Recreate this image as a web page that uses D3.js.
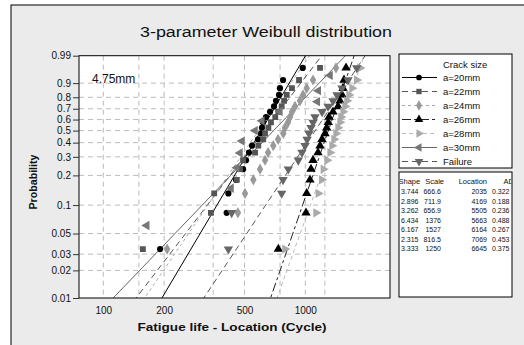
<!DOCTYPE html>
<html>
<head>
<meta charset="utf-8">
<script src="https://cdn.jsdelivr.net/npm/d3@7/dist/d3.min.js"></script>
<style>
  body { margin: 0; background: #fff; }
  text { font-family: "Liberation Sans", Arial, sans-serif; fill: #111; }
</style>
</head>
<body>
<svg id="chart" width="524" height="345"></svg>
<script>
// ---- data ----
const seriesNames = ["a=20mm", "a=22mm", "a=24mm", "a=26mm", "a=28mm", "a=30mm", "Failure"];

// fatigue life - location (cycles), sorted, one per median rank
const life20 = [191, 408, 416, 454, 492, 509, 526, 545, 583, 604, 610, 617, 639, 669, 700, 716, 741, 749, 776, 971];
const life22 = [157, 341, 354, 458, 475, 492, 564, 585, 619, 632, 656, 676, 710, 735, 764, 785, 809, 859, 931, 1183];
const life24 = [207, 464, 503, 553, 597, 632, 654, 694, 733, 778, 793, 821, 840, 860, 889, 941, 974, 1016, 1092, 1419];
const life26 = [735, 1008, 1016, 1055, 1067, 1092, 1156, 1183, 1210, 1252, 1276, 1300, 1310, 1371, 1452, 1485, 1519, 1537, 1555, 1591];
const life28 = [793, 1130, 1160, 1206, 1228, 1281, 1326, 1356, 1387, 1419, 1452, 1485, 1502, 1537, 1573, 1608, 1646, 1703, 1797, 1866];
const life30 = [164, 429, 458, 475, 486, 564, 610, 749, 1147, 1160, 1326];
const lifeFail = [416, 432, 764, 776, 824, 923, 963, 997, 1020, 1043, 1067, 1092, 1117, 1210, 1296, 1371, 1435, 1519, 1627, 1797];

// median rank probabilities (n = 20 and n = 11)
const rank20 = [0.034, 0.083, 0.132, 0.181, 0.230, 0.279, 0.328, 0.377, 0.426, 0.475,
                0.525, 0.574, 0.623, 0.672, 0.721, 0.770, 0.819, 0.868, 0.917, 0.966];
const rank11 = [0.061, 0.149, 0.237, 0.325, 0.412, 0.5, 0.588, 0.675, 0.763, 0.851, 0.939];

// fitted parameters (table)
const shapes = [3.744, 2.896, 3.262, 6.434, 6.167, 2.315, 3.333];
const scales = [666.6, 711.9, 656.9, 1376, 1527, 816.5, 1250];
const locations = [2035, 4169, 5505, 5663, 6164, 7069, 6645];
const adValues = [0.322, 0.188, 0.236, 0.488, 0.267, 0.453, 0.375];

const probTicks = [0.99, 0.9, 0.8, 0.7, 0.6, 0.5, 0.4, 0.3, 0.2, 0.1, 0.05, 0.03, 0.02, 0.01];
const lifeTicks = [100, 200, 500, 1000];
const lifeGrid = [100, 150, 200, 350, 500, 750, 1000, 1250];

// ---- styling ----
const lifes = [life20, life22, life24, life26, life28, life30, lifeFail];
const ranks = [rank20, rank20, rank20, rank20, rank20, rank11, rank20];
const markColor = ["#000", "#555", "#999", "#000", "#aaa", "#777", "#666"];
const lineColor = ["#000", "#555", "#aaa", "#222", "#bbb", "#666", "#555"];
const lineDash = [null, "6,4", "3,3", "9,3,3,3", "4,3", null, "6,4"];
const symbols = [d3.symbolCircle, d3.symbolSquare, d3.symbolDiamond, d3.symbolTriangle,
                 d3.symbolTriangle, d3.symbolTriangle, d3.symbolTriangle];
const symbolRot = [0, 0, 0, 0, 90, -90, 180];
const symbolSize = [30, 34, 36, 38, 38, 38, 38];

const svg = d3.select("#chart");
const plot = { left: 79, right: 390, top: 55.7, bottom: 298 };

// weibull probability transform
const wb = p => Math.log(-Math.log(1 - p));

const x = d3.scaleLog().domain([75.8, 2626]).range([plot.left, plot.right]);
const y = d3.scaleLinear().domain([wb(0.01), wb(0.99)]).range([plot.bottom, plot.top]);

// frame
svg.append("rect").attr("x", 11).attr("y", 5).attr("width", 600).attr("height", 400)
  .attr("fill", "#ebebeb").attr("stroke", "#000");

svg.append("text").attr("x", 266).attr("y", 37).attr("text-anchor", "middle")
  .attr("font-size", 14).attr("textLength", 252).attr("lengthAdjust", "spacingAndGlyphs")
  .text("3-parameter Weibull distribution");

svg.append("rect").attr("x", plot.left).attr("y", plot.top)
  .attr("width", plot.right - plot.left).attr("height", plot.bottom - plot.top)
  .attr("fill", "#fff");

svg.append("clipPath").attr("id", "clip").append("rect")
  .attr("x", plot.left).attr("y", plot.top)
  .attr("width", plot.right - plot.left).attr("height", plot.bottom - plot.top);

// grid
const grid = svg.append("g").attr("stroke", "#bbb").attr("stroke-dasharray", "5,4");
grid.selectAll(".gx").data(lifeGrid).enter().append("line")
  .attr("x1", d => x(d)).attr("x2", d => x(d))
  .attr("y1", plot.top).attr("y2", plot.bottom);
grid.selectAll(".gy").data(probTicks.filter(p => p < 0.99 && p > 0.01)).enter().append("line")
  .attr("x1", plot.left).attr("x2", plot.right)
  .attr("y1", d => y(wb(d))).attr("y2", d => y(wb(d)));

// fitted lines
const lines = svg.append("g").attr("clip-path", "url(#clip)");
seriesNames.forEach((s, i) => {
  const ends = [wb(0.005), wb(0.995)].map(w => [scales[i] * Math.exp(w / shapes[i]), w]);
  lines.append("path")
    .attr("d", d3.line().x(d => x(d[0])).y(d => y(d[1]))(ends))
    .attr("fill", "none").attr("stroke", lineColor[i]).attr("stroke-width", 1)
    .attr("stroke-dasharray", lineDash[i]);
});

// points
const pts = svg.append("g").attr("clip-path", "url(#clip)");
seriesNames.forEach((s, i) => {
  pts.selectAll(".p" + i).data(lifes[i]).enter().append("path")
    .attr("d", d3.symbol().type(symbols[i]).size(symbolSize[i]))
    .attr("transform", (d, j) => "translate(" + x(d) + "," + y(wb(ranks[i][j])) + ") rotate(" + symbolRot[i] + ")")
    .attr("fill", markColor[i]);
});

svg.append("rect").attr("x", plot.left).attr("y", plot.top)
  .attr("width", plot.right - plot.left).attr("height", plot.bottom - plot.top)
  .attr("fill", "none").attr("stroke", "#000");

// y axis
const yAxis = svg.append("g").attr("transform", "translate(" + plot.left + ",0)")
  .call(d3.axisLeft(y).tickValues(probTicks.map(wb)).tickSize(6).tickPadding(2)
    .tickFormat((d, i) => String(probTicks[i])));
yAxis.select(".domain").remove();
yAxis.selectAll("line").attr("stroke", "#333");
yAxis.selectAll("text").attr("font-size", 10).attr("fill", "#333")
  .attr("font-family", "'Liberation Sans', Arial, sans-serif");

// x axis
const xAxis = svg.append("g").attr("transform", "translate(0," + plot.bottom + ")")
  .call(d3.axisBottom(x).tickValues(lifeTicks).tickSize(0).tickPadding(9)
    .tickFormat(d3.format("d")));
xAxis.select(".domain").remove();
xAxis.selectAll("text").attr("font-size", 10).attr("fill", "#333")
  .attr("font-family", "'Liberation Sans', Arial, sans-serif");

svg.append("text").attr("x", 232).attr("y", 331).attr("text-anchor", "middle")
  .attr("font-size", 11).attr("font-weight", "bold")
  .attr("textLength", 189).attr("lengthAdjust", "spacingAndGlyphs")
  .text("Fatigue life - Location (Cycle)");

svg.append("text").attr("transform", "translate(37,182) rotate(-90)")
  .attr("text-anchor", "middle").attr("font-size", 11).attr("font-weight", "bold")
  .attr("textLength", 55).attr("lengthAdjust", "spacingAndGlyphs")
  .text("Probability");

svg.append("text").attr("x", 92).attr("y", 83).attr("font-size", 12).attr("fill", "#222")
  .text("4.75mm");

// legend
const leg = svg.append("g");
leg.append("rect").attr("x", 399).attr("y", 54).attr("width", 113).attr("height", 114)
  .attr("fill", "#fff").attr("stroke", "#000");
leg.append("text").attr("x", 443).attr("y", 68).attr("font-size", 9.5).text("Crack size");
seriesNames.forEach((s, i) => {
  const ly = 77.5 + i * 14;
  leg.append("line").attr("x1", 402).attr("x2", 437).attr("y1", ly).attr("y2", ly)
    .attr("stroke", lineColor[i]).attr("stroke-dasharray", lineDash[i]);
  leg.append("path").attr("d", d3.symbol().type(symbols[i]).size(symbolSize[i] * 0.85)())
    .attr("transform", "translate(419," + ly + ") rotate(" + symbolRot[i] + ")")
    .attr("fill", markColor[i]);
  leg.append("text").attr("x", 443).attr("y", ly + 3.5).attr("font-size", 9.5).text(s);
});

// parameter table
svg.append("clipPath").attr("id", "tclip").append("rect")
  .attr("x", 400).attr("y", 172).attr("width", 111.5).attr("height", 124);
svg.append("rect").attr("x", 399).attr("y", 172).attr("width", 113).attr("height", 125)
  .attr("fill", "#fff").attr("stroke", "#000");
const tab = svg.append("g").attr("clip-path", "url(#tclip)");
const cols = [
  { head: "Shape", hx: 398.5, hAnchor: "start", x: 401, anchor: "start", vals: shapes.map(d3.format(".3f")) },
  { head: "Scale", hx: 444, hAnchor: "end", x: 441, anchor: "end", vals: scales.map(v => v >= 1000 ? String(v) : d3.format(".1f")(v)) },
  { head: "Location", hx: 487, hAnchor: "end", x: 487, anchor: "end", vals: locations.map(String) },
  { head: "AD", hx: 514, hAnchor: "end", x: 492, anchor: "start", vals: adValues.map(d3.format(".3f")) }
];
cols.forEach(c => {
  tab.append("text").attr("x", c.hx).attr("y", 184).attr("text-anchor", c.hAnchor)
    .attr("font-size", 7.5).text(c.head);
  c.vals.forEach((v, j) => {
    tab.append("text").attr("x", c.x).attr("y", 194 + j * 9.5).attr("text-anchor", c.anchor)
      .attr("font-size", 7).text(v);
  });
});
</script>
</body>
</html>
